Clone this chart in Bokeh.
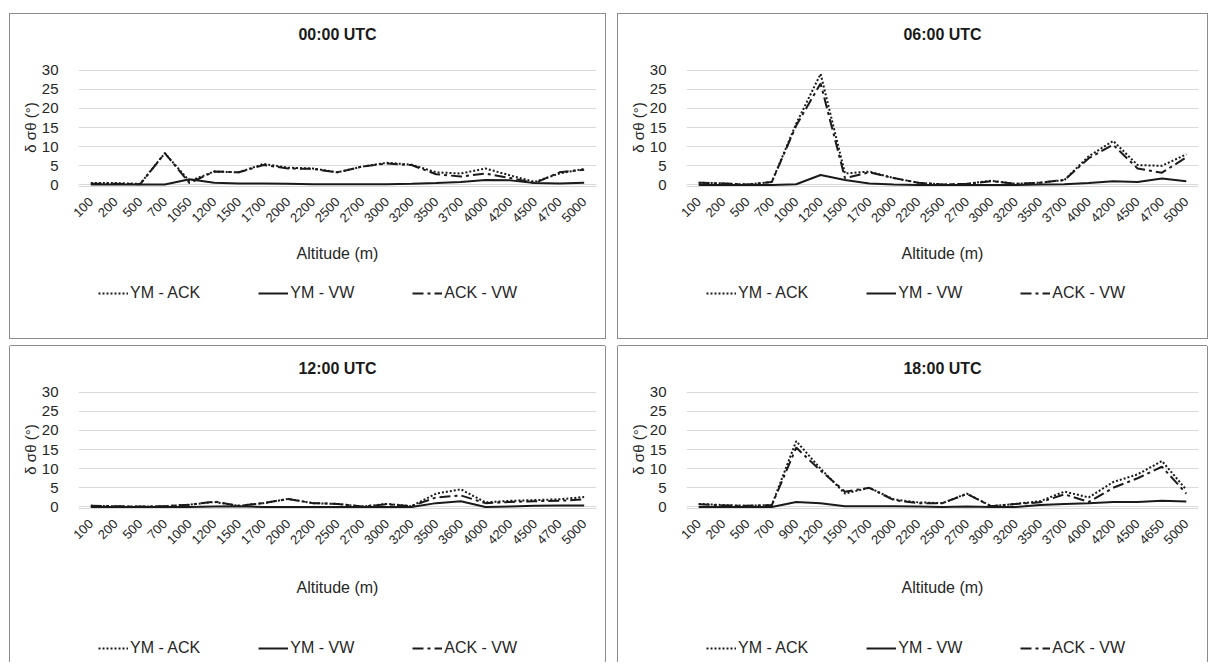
import math
from bokeh.plotting import figure
from bokeh.models import FactorRange, Range1d, FixedTicker, Legend, LegendItem, Spacer
from bokeh.layouts import column, row
from bokeh.embed import file_html
from bokeh.resources import INLINE

FONT = "Liberation Sans"
TXT = "#262626"

titles = ["00:00 UTC", "06:00 UTC", "12:00 UTC", "18:00 UTC"]
series_names = ["YM - ACK", "YM - VW", "ACK - VW"]

cats_00 = ["100", "200", "500", "700", "1050", "1200", "1500", "1700", "2000", "2200", "2500",
           "2700", "3000", "3200", "3500", "3700", "4000", "4200", "4500", "4700", "5000"]
ym_ack_00 = [0.5, 0.5, 0.3, 8.3, 1.0, 3.5, 3.3, 5.5, 4.5, 4.3, 3.3, 4.8, 5.8, 5.3, 3.3, 3.0, 4.3, 2.5, 0.8, 3.0, 4.2]
ym_vw_00 = [0.1, 0.1, 0.1, 0.1, 1.5, 0.6, 0.4, 0.4, 0.3, 0.2, 0.2, 0.2, 0.2, 0.3, 0.5, 0.8, 1.3, 1.2, 0.5, 0.4, 0.6]
ack_vw_00 = [0.3, 0.3, 0.2, 8.3, 0.5, 3.5, 3.3, 5.2, 4.3, 4.2, 3.3, 4.8, 5.6, 5.2, 2.8, 2.2, 3.0, 1.8, 0.5, 3.3, 4.0]

cats_06 = ["100", "200", "500", "700", "1000", "1200", "1500", "1700", "2000", "2200", "2500",
           "2700", "3000", "3200", "3500", "3700", "4000", "4200", "4500", "4700", "5000"]
ym_ack_06 = [0.6, 0.4, 0.1, 0.8, 16.0, 29.0, 3.0, 3.5, 1.8, 0.6, 0.1, 0.3, 1.1, 0.3, 0.6, 1.3, 7.5, 11.5, 5.2, 5.0, 8.0]
ym_vw_06 = [0.0, 0.0, 0.0, 0.0, 0.2, 2.6, 1.3, 0.4, 0.1, 0.0, 0.0, 0.0, 0.0, 0.0, 0.1, 0.2, 0.5, 1.0, 0.8, 1.7, 1.0]
ack_vw_06 = [0.6, 0.4, 0.1, 0.8, 15.5, 26.5, 1.8, 3.3, 1.8, 0.6, 0.1, 0.3, 1.0, 0.3, 0.6, 1.3, 7.0, 10.5, 4.3, 3.2, 7.2]

cats_12 = ["100", "200", "500", "700", "1000", "1200", "1500", "1700", "2000", "2200", "2500",
           "2700", "3000", "3200", "3500", "3600", "4000", "4200", "4500", "4700", "5000"]
ym_ack_12 = [0.3, 0.2, 0.1, 0.2, 0.6, 1.3, 0.3, 1.0, 2.1, 1.0, 0.8, 0.1, 0.8, 0.2, 3.5, 4.6, 1.2, 1.6, 1.8, 2.0, 2.6]
ym_vw_12 = [0.0, 0.0, 0.0, 0.0, 0.0, 0.1, 0.2, 0.0, 0.0, 0.0, 0.0, 0.0, 0.0, 0.0, 1.0, 1.5, 0.0, 0.1, 0.3, 0.4, 0.4]
ack_vw_12 = [0.3, 0.2, 0.1, 0.2, 0.6, 1.4, 0.3, 1.0, 2.1, 1.0, 0.8, 0.1, 0.7, 0.2, 2.5, 3.0, 1.0, 1.3, 1.5, 1.6, 2.0]

cats_18 = ["100", "200", "500", "700", "900", "1200", "1500", "1700", "2000", "2200", "2500",
           "2700", "3000", "3200", "3500", "3700", "4000", "4200", "4500", "4650", "5000"]
ym_ack_18 = [0.8, 0.5, 0.3, 0.5, 17.2, 10.0, 3.5, 5.0, 2.0, 1.2, 1.0, 3.5, 0.2, 0.8, 1.5, 4.0, 2.5, 6.5, 8.5, 12.0, 4.5]
ym_vw_18 = [0.0, 0.0, 0.0, 0.0, 1.3, 1.0, 0.2, 0.2, 0.2, 0.1, 0.0, 0.1, 0.0, 0.0, 0.5, 0.8, 1.0, 1.3, 1.3, 1.6, 1.4]
ack_vw_18 = [0.7, 0.4, 0.3, 0.5, 15.5, 9.5, 4.0, 5.0, 1.8, 1.0, 1.0, 3.4, 0.2, 0.8, 1.2, 3.3, 1.3, 5.0, 7.5, 10.5, 3.5]

y_ticks = [0, 5, 10, 15, 20, 25, 30]

LINE_STYLES = [dict(line_dash="2 2"), dict(), dict(line_dash="11 4 3 4")]
FULL_FRAME = "0 0 0 1px #8c8c8c"
OPEN_FRAME = "-1px 0 0 0 #8c8c8c, 1px 0 0 0 #8c8c8c, 0 -1px 0 0 #8c8c8c"

# per-row layout: header strip (height, title border), chart (height, top border, x-label standoff),
# legend strip (height, legend y)
ROW1 = dict(hh=30, hb=28, ch=230, top=24, xl_off=16, lh=64, ly=35)
ROW2 = dict(hh=32, hb=30, ch=225, top=12, xl_off=28, lh=59, ly=4)


def strip(w, h, cats, mbt=0):
    f = figure(width=w, height=h, x_range=FactorRange(*cats), y_range=Range1d(1000, 1001),
               output_backend="svg", toolbar_location=None, x_axis_type=None, y_axis_type=None,
               min_border=0, min_border_left=0, min_border_right=0, min_border_top=mbt,
               min_border_bottom=0)
    f.outline_line_color = None
    f.grid.visible = False
    return f


def make_panel(title, cats, s1, s2, s3, w, cfg, frame_css):
    # header strip carrying the title
    hd = strip(w, cfg["hh"], cats, cfg["hb"])
    for s, st in zip([s1, s2, s3], LINE_STYLES):
        hd.line(cats, s, line_color="#1a1a1a", line_width=2, **st)
    hd.title.text = title
    hd.title.align = "center"
    hd.title.vertical_align = "bottom"
    hd.title.text_font = FONT
    hd.title.text_font_size = "16px"
    hd.title.text_font_style = "bold"
    hd.title.text_color = "#1a1a1a"
    hd.title.standoff = 0

    bottom = cfg["ch"] - cfg["top"] - 118
    p = figure(width=w, height=cfg["ch"], x_range=FactorRange(*cats), y_range=Range1d(-0.4, 30.4),
               output_backend="svg", toolbar_location=None,
               min_border_left=68, min_border_right=9, min_border_top=cfg["top"],
               min_border_bottom=bottom)
    p.outline_line_color = None
    p.border_fill_color = "white"

    for s, st in zip([s1, s2, s3], LINE_STYLES):
        p.line(cats, s, line_color="#1a1a1a", line_width=2, **st)

    p.xgrid.grid_line_color = None
    p.ygrid.grid_line_color = "#d9d9d9"
    p.ygrid.grid_line_width = 1

    ya = p.yaxis[0]
    ya.ticker = FixedTicker(ticks=y_ticks)
    ya.axis_line_color = None
    ya.major_tick_line_color = None
    ya.minor_tick_line_color = None
    ya.major_label_text_font = FONT
    ya.major_label_text_font_size = "15px"
    ya.major_label_text_color = TXT
    ya.major_label_standoff = 14
    ya.axis_label = "δ σθ (°)"
    ya.axis_label_text_font = FONT
    ya.axis_label_text_font_size = "15px"
    ya.axis_label_text_font_style = "normal"
    ya.axis_label_text_color = TXT
    ya.axis_label_standoff = 0

    xa = p.xaxis[0]
    xa.axis_line_color = "#d9d9d9"
    xa.major_tick_line_color = None
    xa.minor_tick_line_color = None
    xa.major_label_orientation = math.pi / 4
    xa.major_label_text_font = FONT
    xa.major_label_text_font_size = "13px"
    xa.major_label_text_color = TXT
    xa.major_label_standoff = 7
    xa.axis_label = "Altitude (m)"
    xa.axis_label_text_font = FONT
    xa.axis_label_text_font_size = "16px"
    xa.axis_label_text_font_style = "normal"
    xa.axis_label_text_color = TXT
    xa.axis_label_standoff = cfg["xl_off"]

    # legend strip below the chart
    lg = strip(w, cfg["lh"], cats)
    rs = []
    for s, st in zip([s1, s2, s3], LINE_STYLES):
        rs.append(lg.line(cats, s, line_color="#1a1a1a", line_width=2, **st))
    legend = Legend(items=[LegendItem(label=n, renderers=[r]) for n, r in zip(series_names, rs)],
                    orientation="horizontal", location=(20, cfg["ly"]),
                    label_text_font=FONT, label_text_font_size="16px", label_text_color=TXT,
                    glyph_width=30, label_standoff=2, spacing=58, padding=2, margin=0,
                    border_line_color=None, background_fill_alpha=0)
    lg.add_layout(legend)

    return column(hd, p, lg, spacing=0, styles={"box-shadow": frame_css})


p1 = make_panel(titles[0], cats_00, ym_ack_00, ym_vw_00, ack_vw_00, 595, ROW1, FULL_FRAME)
p2 = make_panel(titles[1], cats_06, ym_ack_06, ym_vw_06, ack_vw_06, 589, ROW1, FULL_FRAME)
p3 = make_panel(titles[2], cats_12, ym_ack_12, ym_vw_12, ack_vw_12, 595, ROW2, OPEN_FRAME)
p4 = make_panel(titles[3], cats_18, ym_ack_18, ym_vw_18, ack_vw_18, 589, ROW2, OPEN_FRAME)

grid = column(row(p1, p2, spacing=13), row(p3, p4, spacing=13), spacing=8)
layout = column(Spacer(height=14, width=10), row(Spacer(width=10, height=10), grid, spacing=0), spacing=0)
open("out.html", "w").write(file_html(layout, INLINE))
